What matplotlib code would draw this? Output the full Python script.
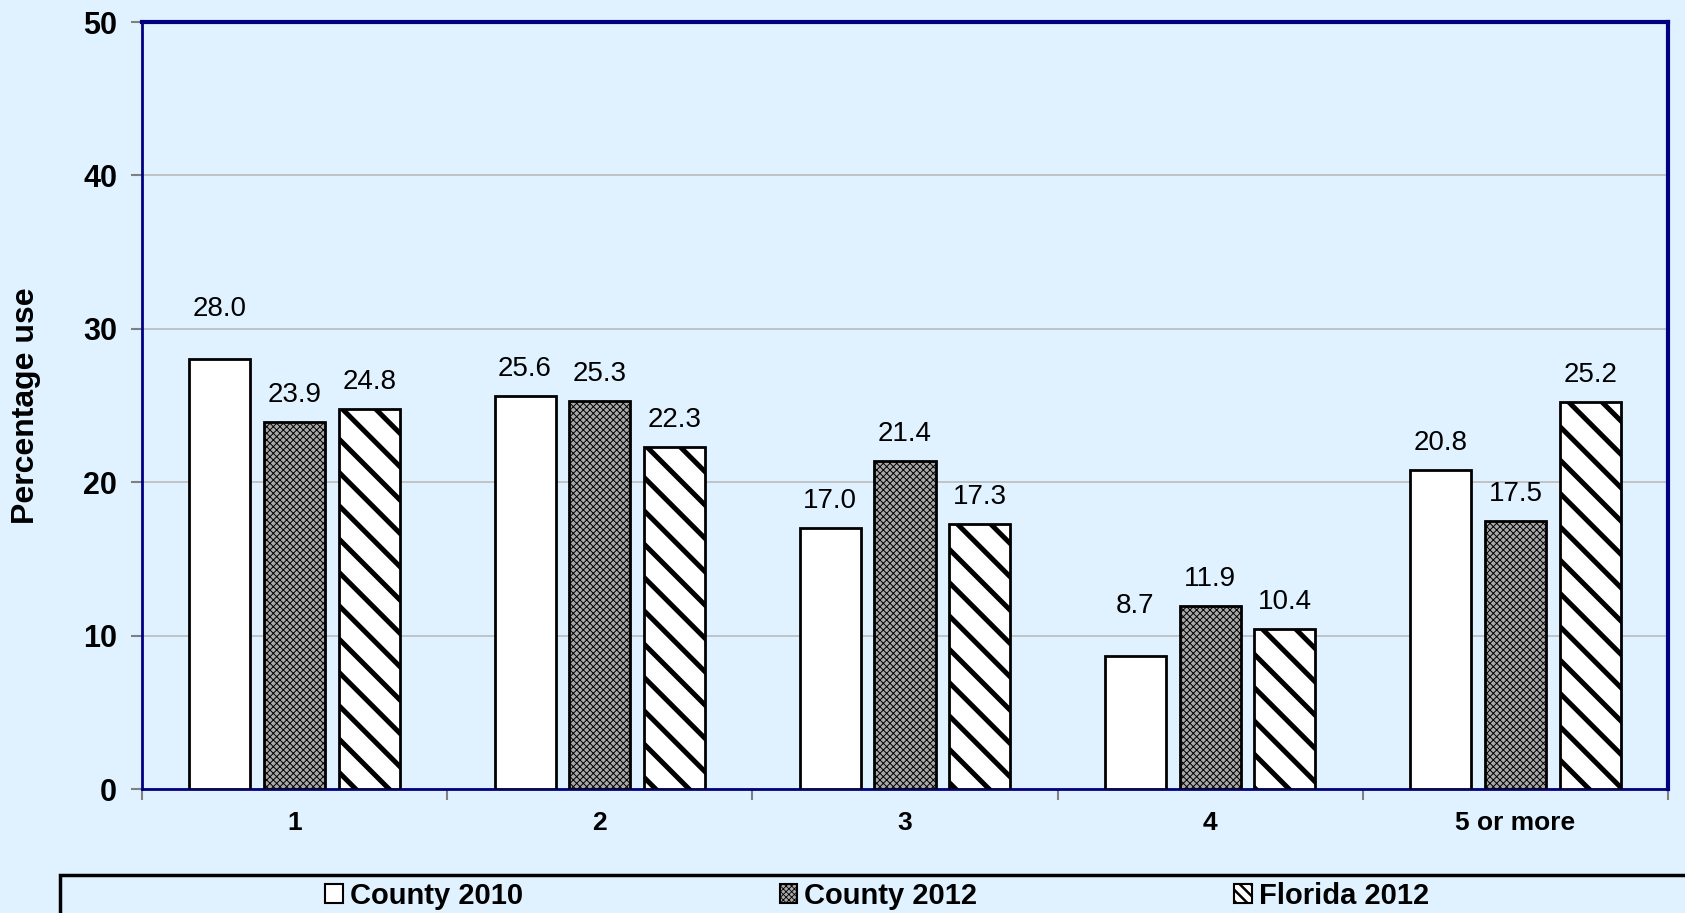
import numpy as np
import matplotlib
matplotlib.use("Agg")
import matplotlib.pyplot as plt
from matplotlib.patches import Rectangle

categories = ["1", "2", "3", "4", "5 or more"]
series_names = ["County 2010", "County 2012", "Florida 2012"]
county_2010 = [28.0, 25.6, 17.0, 8.7, 20.8]
county_2012 = [23.9, 25.3, 21.4, 11.9, 17.5]
florida_2012 = [24.8, 22.3, 17.3, 10.4, 25.2]

plt.rcParams["font.family"] = ["Liberation Sans", "DejaVu Sans"]
plt.rcParams["hatch.linewidth"] = 3.6

bg = "#E0F2FF"
navy = "#000080"

fig = plt.figure(figsize=(16.85, 9.13), dpi=100, facecolor=bg)
ax = fig.add_axes([142 / 1685, 1 - 789 / 913, (1668 - 142) / 1685, (789 - 22) / 913])
ax.set_facecolor(bg)

x = np.arange(len(categories))
w = 0.2
off = 0.245

styles = [
    dict(facecolor="white", hatch=None, hlw=None),
    dict(facecolor="#a8a8a8", hatch="xxxxx", hlw=0.7),
    dict(facecolor="white", hatch="\\", hlw=None),
]
all_series = [county_2010, county_2012, florida_2012]


def set_hlw(patch, lw):
    if lw is None:
        return
    try:
        patch.set_hatch_linewidth(lw)
    except AttributeError:
        pass


for i, (vals, st) in enumerate(zip(all_series, styles)):
    bars = ax.bar(x + (i - 1) * off, vals, w, facecolor=st["facecolor"],
                  edgecolor="black", linewidth=2, hatch=st["hatch"], zorder=3)
    for b in bars:
        set_hlw(b, st["hlw"])
    for j, (b, v) in enumerate(zip(bars, vals)):
        dy = 27
        if (i, j) in [(0, 0), (0, 3)]:
            dy = 50
        ax.annotate(f"{v:.1f}", (b.get_x() + b.get_width() / 2, v),
                    xytext=(0, dy), textcoords="offset pixels",
                    ha="center", va="center", fontsize=20)

ax.set_ylim(0, 50)
ax.set_xlim(-0.5, len(categories) - 0.5)
ax.set_yticks(range(0, 51, 10))
ax.yaxis.grid(True, color="#BBBBBB", linewidth=1.2, zorder=0)
ax.set_axisbelow(True)
ax.tick_params(axis="y", labelsize=22, length=8, color="#808080", width=1.5, pad=10)
for t in ax.get_yticklabels():
    t.set_fontweight("bold")

ax.set_xticks(x)
ax.set_xticklabels(categories, fontsize=19, fontweight="bold")
ax.tick_params(axis="x", which="major", length=0, pad=16)
ax.set_xticks(np.arange(-0.5, len(categories), 1), minor=True)
ax.tick_params(axis="x", which="minor", length=8, color="#808080", width=1.5)

for s in ["top", "right"]:
    ax.spines[s].set_color(navy)
    ax.spines[s].set_linewidth(3)
for s in ["left", "bottom"]:
    ax.spines[s].set_color(navy)
    ax.spines[s].set_linewidth(2)

ax.set_ylabel("Percentage use", fontsize=23, fontweight="bold", labelpad=30)

# legend box running off the bottom right edge
fig.patches.append(Rectangle((60 / 1685, -0.01), 1.0, (913 - 875) / 913 + 0.01,
                             transform=fig.transFigure, facecolor=bg,
                             edgecolor="black", linewidth=2.5))

# small proxy patches for the legend
proxies = [
    Rectangle((0, 0), 1, 1, facecolor="white", edgecolor="black", linewidth=1.5),
    Rectangle((0, 0), 1, 1, facecolor="#a8a8a8", edgecolor="black", linewidth=1.5,
              hatch="xxxxxx"),
    Rectangle((0, 0), 1, 1, facecolor="white", edgecolor="black", linewidth=1.5,
              hatch="\\\\\\"),
]

leg = fig.legend(handles=proxies, labels=series_names, loc="center",
                 bbox_to_anchor=(877 / 1685, 1 - 896 / 913), ncol=3,
                 frameon=False, fontsize=21, handlelength=0.6, handleheight=0.6,
                 handletextpad=0.25, columnspacing=8.8, borderpad=0)
for t in leg.get_texts():
    t.set_fontweight("bold")
set_hlw(leg.legend_handles[1], 0.6)
set_hlw(leg.legend_handles[2], 1.8)

fig.savefig("out.png", dpi=100, facecolor=bg)
